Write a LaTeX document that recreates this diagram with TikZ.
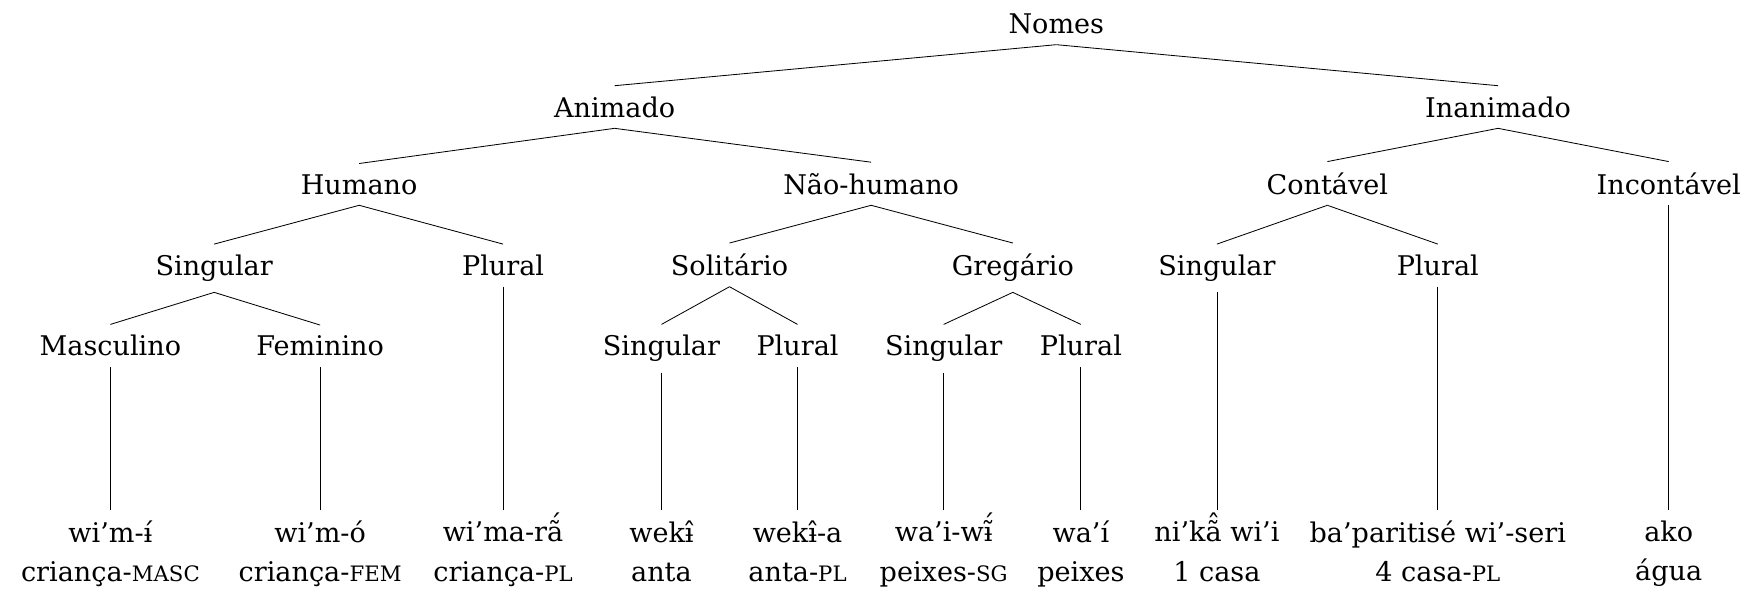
\documentclass[tikz,border=0pt]{standalone}
\usepackage{fontspec}
\setmainfont{DejaVu Serif}
\newcommand\glsc[1]{{\fontsize{10.2}{10.2}\selectfont #1}}
\newcommand\accup[2]{\ooalign{#1\cr\hidewidth\raisebox{0.27em}{#2}\hidewidth\cr}}

\begin{document}
\begin{tikzpicture}[x=0.5354pt,y=-0.5354pt,
  every node/.style={font=\fontsize{13}{19}\selectfont,inner sep=5pt},
  cat/.style={anchor=base},
  leaf/.style={anchor=north,align=center}]
 \useasboundingbox (0,0) rectangle (1568,530);

 \node[cat] (nomes)  at (947,30)  {Nomes};
 \node[cat] (anim)   at (551,105) {Animado};
 \node[cat] (inanim) at (1343,105) {Inanimado};
 \node[cat] (hum)    at (322,174) {Humano};
 \node[cat] (nhum)   at (781,174) {Não-humano};
 \node[cat] (cont)   at (1190,174) {Contável};
 \node[cat] (incont) at (1496,174) {Incontável};
 \node[cat] (hsg)    at (192,247) {Singular};
 \node[cat] (hpl)    at (451,247) {Plural};
 \node[cat] (sol)    at (654,247) {Solitário};
 \node[cat] (greg)   at (908,247) {Gregário};
 \node[cat] (csg)    at (1091,247) {Singular};
 \node[cat] (cpl)    at (1289,247) {Plural};
 \node[cat] (masc)   at (99,319)  {Masculino};
 \node[cat] (fem)    at (287,319) {Feminino};
 \node[cat] (solsg)  at (593,319) {Singular};
 \node[cat] (solpl)  at (715,319) {Plural};
 \node[cat] (gregsg) at (846,319) {Singular};
 \node[cat] (gregpl) at (969,319) {Plural};

 \node[leaf] (lmasc)   at (99,457)   {wi’m-ɨ́\\criança-\glsc{MASC}};
 \node[leaf] (lfem)    at (287,457)  {wi’m-ó\\criança-\glsc{FEM}};
 \node[leaf] (lhpl)    at (451,457)  {wi’ma-r\accup{ã}{´}\\criança-\glsc{PL}};
 \node[leaf] (lsolsg)  at (593,457)  {wekɨ̂\\anta};
 \node[leaf] (lsolpl)  at (715,457)  {wekɨ̂-a\\anta-\glsc{PL}};
 \node[leaf] (lgregsg) at (846,457)  {wa’i-w\accup{ɨ̃}{´}\\peixes-\glsc{SG}};
 \node[leaf] (lgregpl) at (969,457)  {wa’í\\peixes};
 \node[leaf] (lcsg)    at (1091,457) {ni’k\accup{ã}{ˆ} wi’i\\1 casa};
 \node[leaf] (lcpl)    at (1289,457) {ba’paritisé wi’-seri\\4 casa-\glsc{PL}};
 \node[leaf] (lincont) at (1496,457) {ako\\água};

 \foreach \a/\b in {nomes/anim,nomes/inanim,anim/hum,anim/nhum,inanim/cont,
   inanim/incont,hum/hsg,hum/hpl,nhum/sol,nhum/greg,cont/csg,cont/cpl,
   hsg/masc,hsg/fem,sol/solsg,sol/solpl,greg/gregsg,greg/gregpl,
   masc/lmasc,fem/lfem,hpl/lhpl,solsg/lsolsg,solpl/lsolpl,gregsg/lgregsg,
   gregpl/lgregpl,csg/lcsg,cpl/lcpl,incont/lincont}
   \draw (\a.south) -- (\b.north);
\end{tikzpicture}
\end{document}
